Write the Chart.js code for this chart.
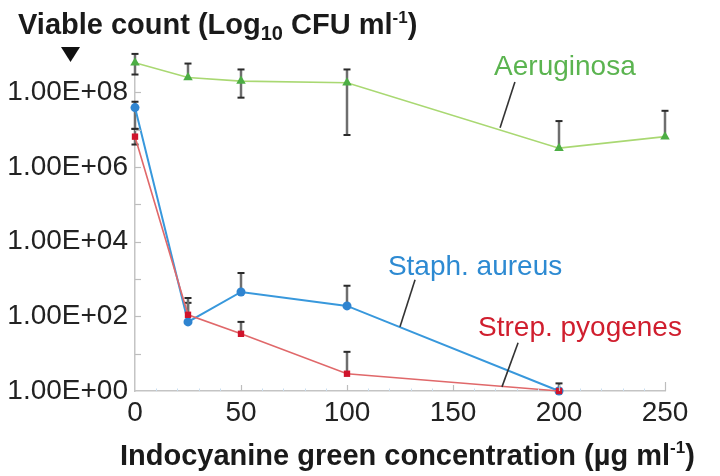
<!DOCTYPE html>
<html><head><meta charset="utf-8">
<script src="https://cdn.jsdelivr.net/npm/chart.js@4.4.1/dist/chart.umd.min.js"></script>
<style>html,body{margin:0;padding:0;background:#fff}#wrap{width:720px;height:476px;position:relative}</style>
</head><body><div id="wrap"><canvas id="c" width="720" height="476"></canvas></div>
<script>
// ---- data ----
const aeruginosaX = [0, 25, 50, 100, 200, 250];
const aeruginosa = [6.2e8, 2.5e8, 2.0e8, 1.8e8, 3.2e6, 6.5e6];
const aeruginosaHigh = [1.07e9, 5.9e8, 4.1e8, 4.1e8, 1.7e7, 3.2e7];
const aeruginosaLow = [3.0e8, null, 7.2e7, 7.2e6, null, null];

const staphX = [0, 25, 50, 100, 200];
const staph = [3.9e7, 71, 450, 190, 1];
const staphHigh = [5.6e7, 310, 1450, 660, 1.6];
const staphLow = [1.05e7, null, null, null, null];

const strepX = [0, 25, 50, 100, 200];
const strep = [6.5e6, 110, 34, 2.9, 1];
const strepHigh = [1.05e7, 230, 71, 11.2, null];
const strepLow = [4.0e6, null, null, null, null];

const xTickValues = [0, 50, 100, 150, 200, 250];
const yExponents = [0, 1, 2, 3, 4, 5, 6, 7, 8, 9];

const FONT = '"Liberation Sans", Arial, Helvetica, sans-serif';

const seriesInfo = [
  {label:'Strep. pyogenes', xs:strepX, ys:strep, hi:strepHigh, lo:strepLow,
   line:'#e0686a', point:'#d0142c', style:'rect', r:4.5, w:1.6},
  {label:'Staph. aureus', xs:staphX, ys:staph, hi:staphHigh, lo:staphLow,
   line:'#3898dc', point:'#2f84d0', style:'circle', r:4.5, w:2},
  {label:'Aeruginosa', xs:aeruginosaX, ys:aeruginosa, hi:aeruginosaHigh, lo:aeruginosaLow,
   line:'#a9d872', point:'#4cae44', style:'triangle', r:5.5, w:1.6}
];

// annotation labels in data coordinates
const annotations = [
  {text:'Aeruginosa', color:'#5bb450', tx:202.8, ty:8.66, from:[179.2, 8.28], to:[172.2, 7.05]},
  {text:'Staph. aureus', color:'#2d8ad2', tx:160.4, ty:3.32, from:[132.1, 2.98], to:[125.0, 1.72]},
  {text:'Strep. pyogenes', color:'#d01e2e', tx:209.9, ty:1.69, from:[180.7, 1.29], to:[173.1, 0.11]}
];

const errorBarPlugin = {
  id:'errorBars',
  beforeDatasetsDraw(chart){
    const ctx = chart.ctx, xs = chart.scales.x, ys = chart.scales.y;
    ctx.save();
    seriesInfo.forEach(s => {
      s.xs.forEach((xv, i) => {
        const px = xs.getPixelForValue(xv);
        const py = ys.getPixelForValue(s.ys[i]);
        [s.hi[i], s.lo[i]].forEach(ev => {
          if (ev == null) return;
          const ey = ys.getPixelForValue(ev);
          ctx.strokeStyle = '#6e6e6e'; ctx.lineWidth = 2.5;
          ctx.beginPath(); ctx.moveTo(px, py); ctx.lineTo(px, ey); ctx.stroke();
          ctx.strokeStyle = '#2a2a2a'; ctx.lineWidth = 2;
          ctx.beginPath(); ctx.moveTo(px - 3.5, ey); ctx.lineTo(px + 3.5, ey); ctx.stroke();
        });
      });
    });
    ctx.restore();
  }
};

function drawRich(ctx, parts, x, y){
  // parts: [text, size, dy, bold]
  let cx = x;
  parts.forEach(p => {
    ctx.font = (p[3] ? 'bold ' : '') + p[1] + 'px ' + FONT;
    ctx.fillText(p[0], cx, y + p[2]);
    cx += ctx.measureText(p[0]).width;
  });
}

const decorPlugin = {
  id:'decor',
  afterDraw(chart){
    const ctx = chart.ctx, xs = chart.scales.x, ys = chart.scales.y;
    const area = chart.chartArea;
    ctx.save();
    // y ticks (inward)
    ctx.strokeStyle = '#bdbdbd'; ctx.lineWidth = 1.2;
    yExponents.forEach(e => {
      if (e === 0 || e === 9) return;
      const py = Math.round(ys.getPixelForValue(Math.pow(10, e))) + 0.5;
      ctx.beginPath(); ctx.moveTo(area.left, py); ctx.lineTo(area.left + 6, py); ctx.stroke();
    });
    // x minor ticks
    ctx.strokeStyle = '#c9def0'; ctx.lineWidth = 1;
    for (let v = 10; v < 250; v += 10) {
      if (v % 50 === 0) continue;
      const px = Math.round(xs.getPixelForValue(v)) + 0.5;
      ctx.beginPath(); ctx.moveTo(px, area.bottom); ctx.lineTo(px, area.bottom - 2.5); ctx.stroke();
    }
    // x major ticks
    ctx.strokeStyle = '#bdbdbd'; ctx.lineWidth = 1.2;
    xTickValues.forEach(v => {
      if (v === 0) return;
      const px = Math.round(xs.getPixelForValue(v)) + 0.5;
      ctx.beginPath(); ctx.moveTo(px, area.bottom); ctx.lineTo(px, area.bottom - (v === 250 ? 9 : 6)); ctx.stroke();
    });
    // annotations
    annotations.forEach(a => {
      const x1 = xs.getPixelForValue(a.from[0]), y1 = ys.getPixelForValue(Math.pow(10, a.from[1]));
      const x2 = xs.getPixelForValue(a.to[0]), y2 = ys.getPixelForValue(Math.pow(10, a.to[1]));
      ctx.strokeStyle = '#333'; ctx.lineWidth = 1.6;
      ctx.beginPath(); ctx.moveTo(x1, y1); ctx.lineTo(x2, y2); ctx.stroke();
      ctx.fillStyle = a.color; ctx.font = '28px ' + FONT;
      ctx.textAlign = 'center'; ctx.textBaseline = 'middle';
      ctx.fillText(a.text, xs.getPixelForValue(a.tx), ys.getPixelForValue(Math.pow(10, a.ty)));
    });
    // titles
    ctx.fillStyle = '#1a1a1a'; ctx.textAlign = 'left'; ctx.textBaseline = 'alphabetic';
    drawRich(ctx, [['Viable count (Log', 29, 0, true], ['10', 20, 6, true], [' CFU ml', 29, 0, true], ['-1', 17, -11, true], [')', 29, 0, true]], 18, 34);
    drawRich(ctx, [['Indocyanine green concentration (\u00b5g ml', 29, 0, true], ['-1', 17, -12, true], [')', 29, 0, true]], 120, 465);
    // down-pointing triangle
    ctx.fillStyle = '#111';
    ctx.beginPath(); ctx.moveTo(61, 47); ctx.lineTo(80, 47); ctx.lineTo(70.5, 62); ctx.closePath(); ctx.fill();
    ctx.restore();
  }
};

const datasets = seriesInfo.map(s => ({
  label: s.label,
  data: s.xs.map((x, i) => ({x, y: s.ys[i]})),
  borderColor: s.line, borderWidth: s.w,
  pointBackgroundColor: s.point, pointBorderColor: s.point,
  pointStyle: s.style, pointRadius: s.r, pointBorderWidth: 0,
  tension: 0, fill: false, clip: false
}));

new Chart(document.getElementById('c'), {
  type: 'line',
  data: {datasets},
  options: {
    responsive: false, animation: false, devicePixelRatio: 1,
    layout: {padding: {top: 55, right: 55, left: 0, bottom: 0}},
    plugins: {legend: {display: false}, tooltip: {enabled: false}},
    scales: {
      x: {
        type: 'linear', min: 0, max: 250,
        afterBuildTicks: s => { s.ticks = xTickValues.map(v => ({value: v})); },
        ticks: {font: {size: 28, family: FONT}, color: '#222', padding: 5, maxRotation: 0, autoSkip: false},
        grid: {display: false, drawTicks: false},
        border: {display: true, color: '#c4c4c4', width: 1.5},
        afterFit: s => { s.height = 85; }
      },
      y: {
        type: 'logarithmic', min: 1, max: 1e9,
        afterBuildTicks: s => { s.ticks = yExponents.map(e => ({value: Math.pow(10, e)})); },
        ticks: {
          font: {size: 28, family: FONT}, color: '#222', padding: 7, autoSkip: false,
          callback: v => {
            const e = Math.round(Math.log10(v));
            return (e % 2 === 0 && e < 9) ? '1.00E+' + String(e).padStart(2, '0') : '';
          }
        },
        grid: {display: false, drawTicks: false},
        border: {display: true, color: '#c4c4c4', width: 1.5},
        afterFit: s => { s.width = 135; }
      }
    }
  },
  plugins: [errorBarPlugin, decorPlugin]
});
</script></body></html>
